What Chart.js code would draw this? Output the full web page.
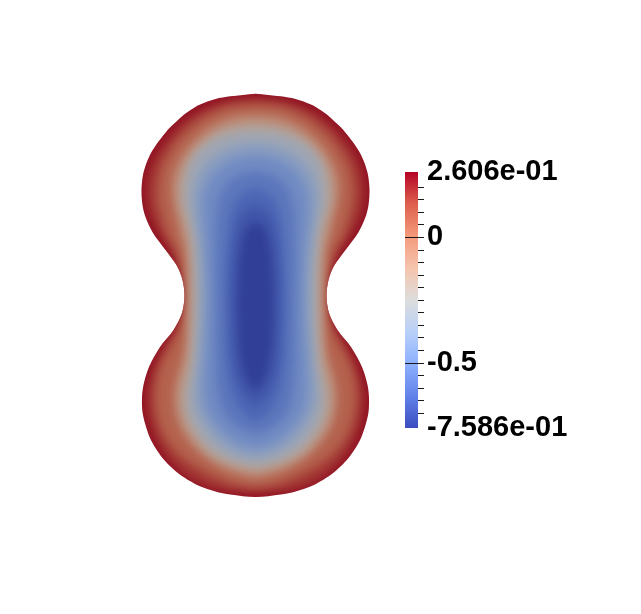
<!DOCTYPE html>
<html>
<head>
<meta charset="utf-8">
<script src="https://cdn.jsdelivr.net/npm/chart.js@4.4.1/dist/chart.umd.min.js"></script>
<style>
  html, body { margin: 0; padding: 0; background: #fff; }
  #wrap { position: relative; width: 641px; height: 614px; overflow: hidden; }
  #field { position: absolute; left: 0; top: 0; }
  #bar { position: absolute; left: 395px; top: 150px; }
</style>
</head>
<body>
<div id="wrap">
  <canvas id="field" width="641" height="614"></canvas>
  <canvas id="bar" width="246" height="300"></canvas>
</div>
<script>
// data range of the field (colour bar ends)
const rangeMin = -0.7586;
const rangeMax = 0.2606;

// colour bar ticks and labels
const barTicks = [0.2606, 0.2, 0.15, 0.1, 0.05, 0, -0.05, -0.1, -0.15, -0.2, -0.25, -0.3, -0.35, -0.4, -0.45, -0.5, -0.55, -0.6, -0.65, -0.7, -0.7586];
const barLabelValues = [0.2606, 0, -0.5, -0.7586];
const barLabelTexts = ['2.606e-01', '0', '-0.5', '-7.586e-01'];
const majorTicks = [0, -0.5];

// contour levels, and for each one its half width (w) at heights (y)
const levels = [0.2606, 0.2, 0.13, 0, -0.125, -0.25, -0.35, -0.45, -0.525, -0.6, -0.65, -0.7];
const innerValue = -0.745;

const yEdge = [2.023, 1.997, 1.97, 1.913, 1.86, 1.81, 1.76, 1.68, 1.59, 1.51, 1.43, 1.33, 1.21, 1.06, 0.91, 0.79, 0.63, 0.46, 0.30, 0.16, 0, -0.17, -0.34, -0.51, -0.71, -0.89, -1.02, -1.16, -1.29, -1.42, -1.52, -1.62, -1.70, -1.79, -1.85, -1.90, -1.955, -1.985, -2.01];
const wEdge = [0, 0.25, 0.40, 0.56, 0.65, 0.72, 0.775, 0.86, 0.935, 0.995, 1.045, 1.09, 1.125, 1.14, 1.13, 1.10, 1.025, 0.90, 0.785, 0.73, 0.71, 0.735, 0.82, 0.955, 1.065, 1.12, 1.135, 1.13, 1.10, 1.055, 1.00, 0.93, 0.855, 0.75, 0.655, 0.56, 0.40, 0.25, 0];

const yP20 = [1.975, 1.96, 1.93, 1.88, 1.82, 1.76, 1.68, 1.59, 1.51, 1.43, 1.33, 1.21, 1.06, 0.91, 0.79, 0.63, 0.46, 0.30, 0.16, 0, -0.17, -0.34, -0.51, -0.71, -0.89, -1.02, -1.16, -1.29, -1.42, -1.52, -1.62, -1.70, -1.79, -1.85, -1.90, -1.93, -1.95, -1.96];
const wP20 = [0, 0.18, 0.34, 0.48, 0.60, 0.685, 0.775, 0.855, 0.92, 0.975, 1.025, 1.065, 1.085, 1.07, 1.035, 0.96, 0.845, 0.765, 0.723, 0.704, 0.73, 0.795, 0.91, 1.01, 1.065, 1.08, 1.07, 1.04, 0.995, 0.94, 0.87, 0.795, 0.69, 0.59, 0.48, 0.38, 0.25, 0];

const yP13 = [1.92, 1.90, 1.86, 1.78, 1.68, 1.56, 1.41, 1.26, 1.06, 0.91, 0.76, 0.63, 0.46, 0.30, 0.16, 0, -0.16, -0.34, -0.51, -0.71, -0.89, -1.04, -1.19, -1.34, -1.49, -1.62, -1.72, -1.80, -1.86, -1.90, -1.915];
const wP13 = [0, 0.24, 0.37, 0.53, 0.66, 0.78, 0.88, 0.95, 0.98, 0.97, 0.93, 0.89, 0.80, 0.75, 0.715, 0.698, 0.72, 0.77, 0.86, 0.955, 0.995, 1.005, 0.985, 0.94, 0.855, 0.73, 0.58, 0.43, 0.29, 0.15, 0];

const yZero = [1.82, 1.80, 1.76, 1.69, 1.59, 1.46, 1.31, 1.16, 1.01, 0.86, 0.74, 0.63, 0.46, 0.26, 0, -0.24, -0.51, -0.71, -0.86, -1.02, -1.16, -1.29, -1.44, -1.56, -1.66, -1.74, -1.78, -1.82];
const wZero = [0, 0.21, 0.33, 0.465, 0.59, 0.705, 0.79, 0.835, 0.835, 0.81, 0.78, 0.76, 0.71, 0.695, 0.69, 0.695, 0.71, 0.76, 0.80, 0.82, 0.805, 0.77, 0.68, 0.57, 0.44, 0.30, 0.20, 0];

const yM125 = [1.735, 1.71, 1.67, 1.60, 1.50, 1.36, 1.21, 1.06, 0.91, 0.76, 0.63, 0.46, 0.26, 0, -0.24, -0.51, -0.71, -0.86, -1.02, -1.16, -1.29, -1.44, -1.56, -1.64, -1.70, -1.75];
const wM125 = [0, 0.20, 0.33, 0.455, 0.57, 0.68, 0.745, 0.77, 0.76, 0.72, 0.69, 0.66, 0.645, 0.64, 0.645, 0.66, 0.69, 0.73, 0.75, 0.735, 0.695, 0.60, 0.49, 0.37, 0.22, 0];

const yM25 = [1.65, 1.63, 1.59, 1.51, 1.41, 1.28, 1.11, 0.96, 0.81, 0.63, 0.46, 0.26, 0, -0.24, -0.51, -0.71, -0.89, -1.04, -1.19, -1.34, -1.47, -1.57, -1.64, -1.69];
const wM25 = [0, 0.20, 0.35, 0.50, 0.60, 0.665, 0.695, 0.70, 0.67, 0.625, 0.61, 0.60, 0.595, 0.60, 0.61, 0.625, 0.66, 0.68, 0.66, 0.59, 0.49, 0.37, 0.23, 0];

const yM35 = [1.53, 1.50, 1.44, 1.34, 1.21, 1.06, 0.91, 0.76, 0.56, 0.36, 0, -0.34, -0.64, -0.89, -1.04, -1.19, -1.34, -1.47, -1.56, -1.61];
const wM35 = [0, 0.20, 0.34, 0.48, 0.57, 0.615, 0.62, 0.60, 0.57, 0.55, 0.54, 0.55, 0.57, 0.60, 0.60, 0.56, 0.47, 0.35, 0.20, 0];

const yM45 = [1.41, 1.38, 1.31, 1.21, 1.06, 0.91, 0.76, 0.56, 0.36, 0, -0.34, -0.64, -0.89, -1.04, -1.19, -1.32, -1.42, -1.49, -1.52];
const wM45 = [0, 0.18, 0.32, 0.43, 0.51, 0.53, 0.525, 0.505, 0.49, 0.48, 0.49, 0.51, 0.52, 0.51, 0.46, 0.37, 0.26, 0.14, 0];

const yM525 = [1.25, 1.22, 1.16, 1.06, 0.91, 0.71, 0.36, 0, -0.34, -0.64, -0.89, -1.09, -1.22, -1.31, -1.36, -1.38];
const wM525 = [0, 0.14, 0.25, 0.33, 0.38, 0.40, 0.405, 0.40, 0.40, 0.40, 0.39, 0.35, 0.28, 0.18, 0.09, 0];

const yM60 = [1.08, 1.04, 0.96, 0.81, 0.56, 0.26, 0, -0.34, -0.64, -0.89, -1.04, -1.14, -1.21, -1.25];
const wM60 = [0, 0.11, 0.19, 0.25, 0.28, 0.30, 0.305, 0.30, 0.29, 0.26, 0.21, 0.15, 0.08, 0];

const yM65 = [0.91, 0.86, 0.76, 0.56, 0.26, -0.04, -0.34, -0.64, -0.84, -0.97, -1.04, -1.09];
const wM65 = [0, 0.10, 0.17, 0.215, 0.24, 0.25, 0.245, 0.225, 0.185, 0.125, 0.07, 0];

const yM70 = [0.74, 0.68, 0.51, 0.26, -0.04, -0.44, -0.69, -0.84, -0.94];
const wM70 = [0, 0.09, 0.14, 0.17, 0.18, 0.17, 0.135, 0.09, 0];

const contourY = [yEdge, yP20, yP13, yZero, yM125, yM25, yM35, yM45, yM525, yM60, yM65, yM70];
const contourW = [wEdge, wP20, wP13, wZero, wM125, wM25, wM35, wM45, wM525, wM60, wM65, wM70];

// Cool to Warm colour map
const coolWarmT = [0, 0.125, 0.25, 0.375, 0.5, 0.625, 0.75, 0.875, 1];
const coolWarm = [[59,76,192],[98,130,234],[141,176,254],[184,208,249],[221,221,221],[245,196,173],[244,154,123],[222,96,77],[180,4,38]];
const shade = 0.77; // surface lighting darkens the field

function mapColor(v, k) {
  let t = (v - rangeMin) / (rangeMax - rangeMin);
  t = Math.max(0, Math.min(1, t));
  let i = 0;
  while (i < coolWarmT.length - 2 && t > coolWarmT[i + 1]) i++;
  const f = (t - coolWarmT[i]) / (coolWarmT[i + 1] - coolWarmT[i]);
  const c = coolWarm[i].map((a, j) => Math.round((a + (coolWarm[i + 1][j] - a) * f) * k));
  return 'rgb(' + c.join(',') + ')';
}

// each band shows the value half way between its two contours
function bandColor(i) {
  const v = i < levels.length - 1 ? (levels[i] + levels[i + 1]) / 2 : innerValue;
  return mapColor(v, shade);
}

// closed outline: down the right side, back up the left side
function outline(ys, ws) {
  const pts = [];
  for (let i = 0; i < ys.length; i++) pts.push({x: ws[i], y: ys[i]});
  for (let i = ys.length - 2; i >= 0; i--) pts.push({x: -ws[i], y: ys[i]});
  return pts;
}

// blur the inner bands, clipped to the outer edge
const soften = {
  id: 'soften',
  afterDatasetDraw(chart, args) {
    if (args.index !== 0) return;
    const ctx = chart.ctx;
    const pts = args.meta.data;
    ctx.save();
    ctx.beginPath();
    ctx.moveTo(pts[0].x, pts[0].y);
    for (let i = 1; i < pts.length; i++) {
      const a = pts[i - 1], b = pts[i];
      if (a.cp2x !== undefined && b.cp1x !== undefined) ctx.bezierCurveTo(a.cp2x, a.cp2y, b.cp1x, b.cp1y, b.x, b.y);
      else ctx.lineTo(b.x, b.y);
    }
    ctx.closePath();
    ctx.clip();
    ctx.filter = 'blur(4px)';
  },
  afterDatasetsDraw(chart) {
    chart.ctx.restore();
  }
};

var field_chart = new Chart(document.getElementById('field'), {
  type: 'scatter',
  data: {
    datasets: contourY.map((ys, i) => ({
      data: outline(ys, contourW[i]),
      showLine: true,
      fill: 'shape',
      backgroundColor: bandColor(i),
      borderWidth: 0,
      pointRadius: 0,
      tension: 0.3,
      order: contourY.length - i
    }))
  },
  options: {
    responsive: false,
    animation: false,
    layout: { padding: 0 },
    plugins: { legend: { display: false }, tooltip: { enabled: false } },
    scales: {
      x: { type: 'linear', display: false, min: -2.555, max: 3.855 },
      y: { type: 'linear', display: false, min: -3.18, max: 2.96 }
    }
  },
  plugins: [soften]
});

function barGradient(c) {
  const area = c.chart.chartArea;
  if (!area) return null;
  const g = c.chart.ctx.createLinearGradient(0, area.bottom, 0, area.top);
  coolWarmT.forEach((t, i) => g.addColorStop(t, 'rgb(' + coolWarm[i].join(',') + ')'));
  return g;
}

var bar_chart = new Chart(document.getElementById('bar'), {
  type: 'bar',
  data: {
    labels: [''],
    datasets: [{
      data: [[rangeMin, rangeMax]],
      backgroundColor: barGradient,
      borderWidth: 0,
      barPercentage: 1,
      categoryPercentage: 1
    }]
  },
  options: {
    responsive: false,
    animation: false,
    layout: { padding: { left: 10, top: 22, bottom: 22, right: 0 } },
    plugins: { legend: { display: false }, tooltip: { enabled: false } },
    scales: {
      x: { display: false },
      y: {
        position: 'right',
        min: rangeMin,
        max: rangeMax,
        afterBuildTicks: s => { s.ticks = barTicks.map(v => ({value: v})); },
        afterFit: s => { s.width = 223; },
        border: { display: false },
        grid: {
          z: 1,
          tickLength: 6,
          drawOnChartArea: true,
          color: c => majorTicks.includes(c.tick.value) ? '#1a1a1a' : 'rgba(0,0,0,0)',
          tickColor: c => (c.tick.value === rangeMin || c.tick.value === rangeMax) ? 'rgba(0,0,0,0)' : '#1a1a1a'
        },
        ticks: {
          autoSkip: false,
          padding: 3,
          color: '#000',
          font: { family: 'Liberation Sans', weight: 'bold', size: 29 },
          callback: v => {
            const k = barLabelValues.findIndex(b => Math.abs(b - v) < 1e-9);
            return k < 0 ? '' : barLabelTexts[k];
          }
        }
      }
    }
  }
});
</script>
</body>
</html>
